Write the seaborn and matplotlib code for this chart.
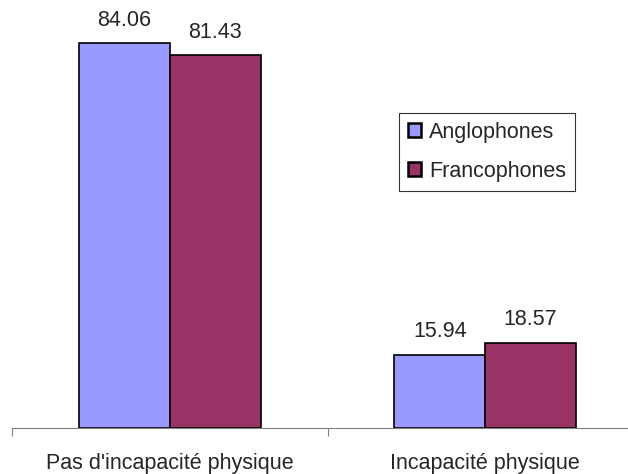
import matplotlib
matplotlib.use("Agg")
import matplotlib.pyplot as plt
import seaborn as sns
import pandas as pd

categories = ["Pas d'incapacité physique", "Incapacité physique"]
groups = ["Anglophones", "Francophones"]
anglophones = [84.06, 15.94]
francophones = [81.43, 18.57]
colors = ["#9999FF", "#993366"]

df = pd.DataFrame({
    "cat": categories * 2,
    "groupe": [groups[0]] * 2 + [groups[1]] * 2,
    "val": anglophones + francophones,
})

sns.set_style("white")
plt.rcParams['font.family'] = ['Liberation Sans', 'DejaVu Sans']
fs = 15.5

fig = plt.figure(figsize=(6.28, 4.74), dpi=100)
ax = fig.add_axes([12 / 628, 46 / 474, 631 / 628, 458 / 474])

sns.barplot(data=df, x="cat", y="val", hue="groupe", palette=colors,
            saturation=1, width=0.576, edgecolor="black", linewidth=1.2, ax=ax)

for cont in ax.containers:
    ax.bar_label(cont, fmt="%.2f", padding=9, fontsize=fs)

ax.set_xlim(-0.5, 1.5)
ax.set_ylim(0, 100)
ax.set_xlabel("")
ax.set_ylabel("")
ax.set_yticks([])
ax.set_xticks([-0.5, 0.5, 1.5], minor=False)
ax.set_xticklabels([])
ax.set_xticks([0, 1], minor=True)
ax.set_xticklabels(categories, minor=True, fontsize=fs)
ax.tick_params(axis="x", which="major", length=6, width=0.8, color="#808080",
               bottom=True, direction="out")
ax.tick_params(axis="x", which="minor", length=0, pad=18)
for s in ["top", "right", "left"]:
    ax.spines[s].set_visible(False)
ax.spines["bottom"].set_color("#808080")
ax.spines["bottom"].set_linewidth(0.8)

leg = ax.legend(loc="upper left", bbox_to_anchor=((399 - 12) / 631, (474 - 46 - 113) / 458),
                frameon=True, fancybox=False, fontsize=fs, handlelength=0.6,
                handleheight=0.6, handletextpad=0.4, borderpad=0.4, labelspacing=0.85,
                borderaxespad=0)
leg.get_frame().set_edgecolor("black")
leg.get_frame().set_linewidth(0.8)
for h in leg.legend_handles:
    h.set_linewidth(1.8)

fig.savefig("out.png", dpi=100)
